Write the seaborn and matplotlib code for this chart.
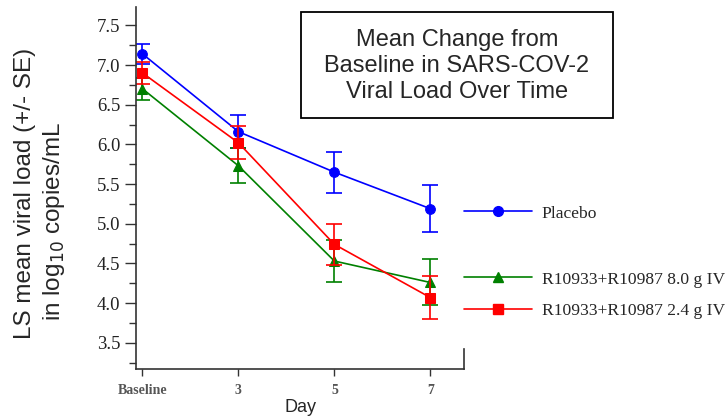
import matplotlib
matplotlib.use('Agg')
from matplotlib import pyplot as plt
from matplotlib.lines import Line2D
from matplotlib.patches import Rectangle
from matplotlib.ticker import MultipleLocator
import numpy as np
import pandas as pd
import seaborn as sns

# data
days = ["Baseline", "3", "5", "7"]
placebo_mean = [7.14, 6.16, 5.65, 5.19]
placebo_se = [0.13, 0.21, 0.26, 0.30]
high_mean = [6.70, 5.73, 4.53, 4.26]
high_se = [0.14, 0.22, 0.27, 0.29]
low_mean = [6.90, 6.02, 4.74, 4.07]
low_se = [0.14, 0.21, 0.26, 0.27]
groups = ["Placebo", "R10933+R10987 8.0 g IV", "R10933+R10987 2.4 g IV"]
yticks = [3.5, 4.0, 4.5, 5.0, 5.5, 6.0, 6.5, 7.0, 7.5]

sns.set_style("ticks")
serif = "Liberation Serif"
sans = "Liberation Sans"

fig = plt.figure(figsize=(7.26, 4.16), dpi=100)
ax = fig.add_axes([0.188, 0.113, 0.451, 0.870])

styles = [
    (placebo_mean, placebo_se, "#0000ff", "o", 7),
    (high_mean, high_se, "#008000", "^", 7),
    (low_mean, low_se, "#ff0000", "s", 6.5),
]
xpos = np.arange(len(days))
handles = []
for (mean, se, color, marker, ms), name in zip(styles, groups):
    df = pd.DataFrame({"x": xpos, "y": mean})
    sns.lineplot(data=df, x="x", y="y", color=color, marker=marker,
                 markersize=ms, markeredgecolor=color, linewidth=1.2, ax=ax)
    ax.errorbar(xpos, mean, yerr=se, fmt="none", ecolor=color,
                elinewidth=1.2, capsize=5.8, capthick=1.2)
    handles.append(Line2D([], [], color=color, marker=marker, markersize=ms,
                          linewidth=1.2, label=name))

ax.set_xlim(-0.0625, 3.35)
ax.set_ylim(3.17, 7.73)
ax.set_xticks(xpos)
ax.set_xticklabels(days, fontfamily=serif, fontsize=10, color="#555555",
                   fontweight="bold")
ax.yaxis.set_minor_locator(MultipleLocator(0.25))
ax.set_yticks(yticks)
ax.set_yticklabels([f"{v:.1f}" for v in yticks],
                   fontfamily=serif, fontsize=13.5, color="#222222")
ax.tick_params(axis="y", which="major", length=8, width=1, color="#333333")
ax.tick_params(axis="y", which="minor", length=5, width=1, color="#333333")
ax.tick_params(axis="x", length=5, width=1, pad=6, color="#333333")

ax.spines["top"].set_visible(False)
ax.spines["right"].set_bounds(3.17, 3.42)
for s in ["left", "bottom", "right"]:
    ax.spines[s].set_color("#333333")
    ax.spines[s].set_linewidth(1.2)

ax.set_xlabel("Day", fontfamily=sans, fontsize=13, labelpad=1)
ax.set_ylabel("")

# two-line y label, placed as in the reference
fig.text(0.035, 0.536, "LS mean viral load (+/- SE)", rotation=90,
         ha="center", va="center", fontfamily=sans, fontsize=17.5)
fig.text(0.075, 0.468, "in log$_{10}$ copies/mL", rotation=90,
         ha="center", va="center", fontfamily=sans, fontsize=17.5)

leg_kw = dict(loc="center left", frameon=False, handlelength=3.9,
              handletextpad=0.57, labelspacing=0.89, numpoints=1,
              prop={"family": serif, "size": 12.6})
fig.legend(handles=handles[:1], bbox_to_anchor=(0.617, 0.487), **leg_kw)
fig.legend(handles=handles[1:], bbox_to_anchor=(0.617, 0.290), **leg_kw)

fig.patches.append(Rectangle((0.4146, 0.7163), 0.4298, 0.2548,
                             transform=fig.transFigure, fc="white",
                             ec="black", lw=1.3))
fig.text(0.6295, 0.841, "Mean Change from\nBaseline in SARS-COV-2\nViral Load Over Time",
         ha="center", va="center", fontfamily=sans, fontsize=17,
         linespacing=1.25)

fig.savefig("out.png", dpi=100)
